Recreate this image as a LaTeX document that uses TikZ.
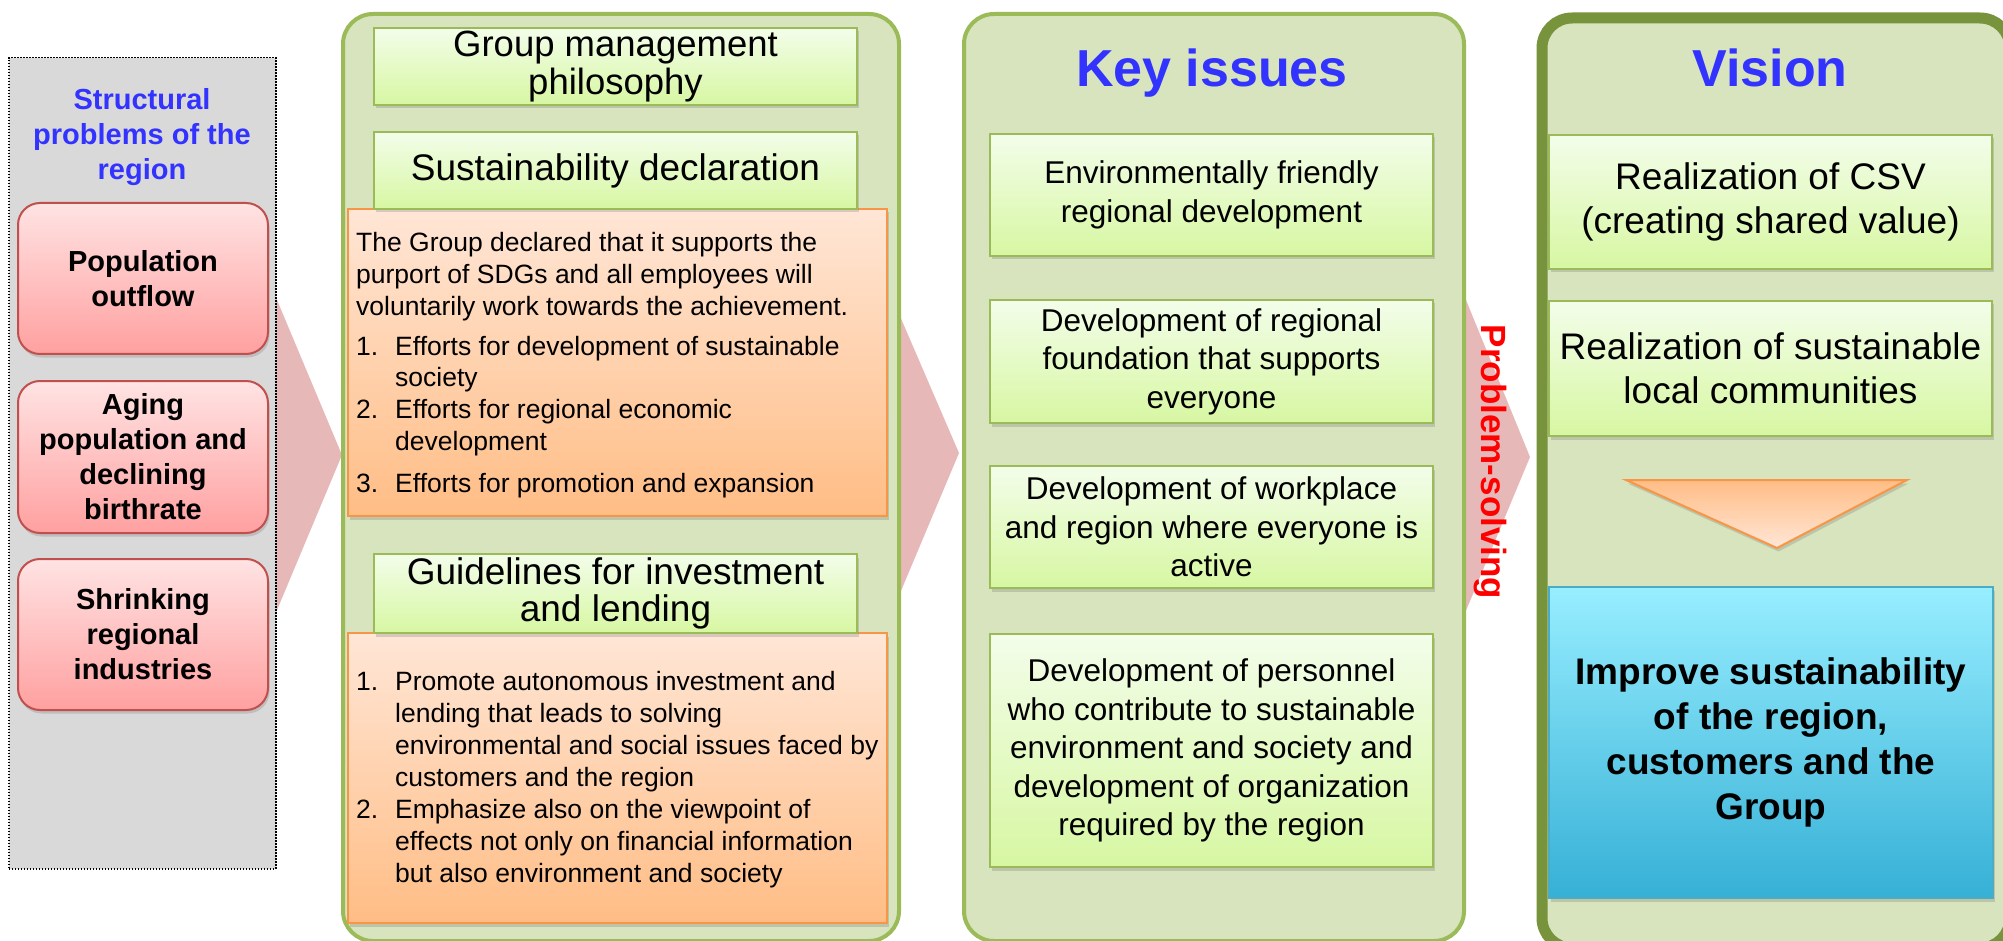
\documentclass[tikz,border=0pt]{standalone}
\usepackage{fontspec}
\setmainfont{Liberation Sans}
\usepackage{xcolor}
\usepackage{tikz}
\usetikzlibrary{shadows}

\definecolor{panelfill}{HTML}{D7E4BD}
\definecolor{panelline}{HTML}{9BBB59}
\definecolor{visionline}{HTML}{77933C}
\definecolor{greentop}{HTML}{F3FDEA}
\definecolor{greenbot}{HTML}{D7F7A2}
\definecolor{orangetop}{HTML}{FFE6D6}
\definecolor{orangebot}{HTML}{FFBD85}
\definecolor{orangeline}{HTML}{F79646}
\definecolor{redtop}{HTML}{FFE3E3}
\definecolor{redbot}{HTML}{FFA0A0}
\definecolor{redline}{HTML}{C0504D}
\definecolor{bluetop}{HTML}{97EEFF}
\definecolor{bluebot}{HTML}{36B0D6}
\definecolor{blueline}{HTML}{4BACC6}
\definecolor{chevron}{HTML}{E6B9B8}
\definecolor{headblue}{HTML}{3333FF}
\definecolor{problemgray}{HTML}{D9D9D9}

\newcommand{\fs}[2]{\fontsize{#1}{#2}\selectfont}
\newcommand{\numitem}[2]{\par\hangindent=39pt\hangafter=1\noindent\makebox[39pt][l]{#1}#2\par}

\tikzset{
  boxshadow/.style={drop shadow={shadow xshift=1.5pt, shadow yshift=-3.5pt, opacity=0.3}},
  panel/.style={draw=panelline, line width=4pt, fill=panelfill, rounded corners=30pt,
    anchor=north west, inner sep=0pt},
  greenbox/.style={draw=panelline, line width=2pt, top color=greentop, bottom color=greenbot,
    boxshadow, anchor=north west, inner sep=0pt, align=center},
  orangebox/.style={draw=orangeline, line width=2pt, top color=orangetop, bottom color=orangebot,
    boxshadow, anchor=north west, inner sep=0pt, minimum width=539pt},
  redbox/.style={draw=redline, line width=2pt, top color=redtop, bottom color=redbot,
    rounded corners=22pt, boxshadow, anchor=north west, inner sep=0pt, align=center,
    minimum width=250pt, font=\fs{29}{35}\bfseries},
  keybox/.style={greenbox, minimum width=443pt, font=\fs{31.5}{38.5}},
  visionbox/.style={greenbox, minimum width=443pt, font=\fs{37}{44}},
  headtext/.style={anchor=base, text=headblue, font=\fs{52}{60}\bfseries},
  listtext/.style={anchor=base west, inner sep=0pt, align=left}
}

\begin{document}
\begin{tikzpicture}[x=1pt, y=-1pt]
    \useasboundingbox (0,0) rectangle (2003,941);

    % arrows running behind the columns
    \fill[chevron] (272,288) -- (342,455) -- (272,622) -- cycle;
    \fill[chevron] (890,293) -- (959,453) -- (890,617) -- cycle;
    \fill[chevron] (1455,273) -- (1530,457) -- (1455,637) -- cycle;

    % structural problems
    \node[draw, fill=problemgray, line width=1.5pt, dash pattern=on 1.5pt off 1.5pt,
      anchor=north west, inner sep=0pt, minimum width=267pt, minimum height=811pt] (problems) at (8,57) {};
    \node[align=center, text=headblue, font=\fs{29}{35}\bfseries] (probhead) at (142,137)
      {Structural\\problems of the\\region};
    \node[redbox, minimum height=151pt] (outflow) at (17,202) {Population\\outflow};
    \node[redbox, minimum height=152pt] (aging) at (17,380) {Aging\\population and\\declining\\birthrate};
    \node[redbox, minimum height=151pt] (shrink) at (17,558) {Shrinking\\regional\\industries};

    % policies
    \node[panel, minimum width=556pt, minimum height=927pt] (policy) at (341,12) {};
    \node[orangebox, minimum height=307pt] (declbox) at (347,208) {};
    \node[orangebox, minimum height=290pt] (guidebox) at (347,632) {};
    \node[greenbox, minimum width=483pt, minimum height=77pt, font=\fs{36.5}{38}] (philo) at (373,27)
      {Group management\\philosophy};
    \node[greenbox, minimum width=483pt, minimum height=77pt, font=\fs{37}{40}] (decl) at (373,131)
      {Sustainability declaration};
    \node[greenbox, minimum width=483pt, minimum height=79pt, font=\fs{37}{37}] (guide) at (373,553)
      {Guidelines for investment\\and lending};
    \node[listtext, font=\fs{26.5}{31.6}] (decltext) at (356,252) {\parbox[t]{560pt}{
      The Group declared that it supports the\\
      purport of SDGs and all employees will\\
      voluntarily work towards the achievement.\par\vspace{8.5pt}
      \numitem{1.}{Efforts for development of sustainable\\society}
      \numitem{2.}{Efforts for regional economic\\development}
      \vspace{10.5pt}
      \numitem{3.}{Efforts for promotion and expansion}}};
    \node[listtext, font=\fs{26.5}{32}] (guidetext) at (356,690) {\parbox[t]{560pt}{
      \numitem{1.}{Promote autonomous investment and\\lending that leads to solving\\
        environmental and social issues faced by\\customers and the region}
      \numitem{2.}{Emphasize also on the viewpoint of\\effects not only on financial information\\
        but also environment and society}}};

    % key issues
    \node[panel, minimum width=500pt, minimum height=927pt] (issues) at (962,12) {};
    \node[headtext] (keyhead) at (1212,87) {Key issues};
    \node[keybox, minimum height=122pt] (envdev) at (989,133)
      {Environmentally friendly\\regional development};
    \node[keybox, minimum height=123pt] (found) at (989,299)
      {Development of regional\\foundation that supports\\everyone};
    \node[keybox, minimum height=122pt] (work) at (989,465)
      {Development of workplace\\and region where everyone is\\active};
    \node[keybox, minimum height=233pt] (people) at (989,633)
      {Development of personnel\\who contribute to sustainable\\environment and society and\\development of organization\\required by the region};
    \node[rotate=-90, text=red, font=\fs{35}{40}\bfseries] (solving) at (1490,462) {Problem-solving};

    % vision
    \node[panel, draw=visionline, line width=11pt, minimum width=468pt, minimum height=930pt] (vision) at (1536.5,12.5) {};
    \node[headtext] (visionhead) at (1770,87) {Vision};
    \node[visionbox, minimum height=134pt] (csv) at (1548,134)
      {Realization of CSV\\(creating shared value)};
    \node[visionbox, minimum height=135pt] (local) at (1548,300)
      {Realization of sustainable\\local communities};
    \shade[top color=orangebot, bottom color=orangetop, draw=orangeline, line width=2pt, boxshadow]
      (1626,480) -- (1907,480) -- (1777,548) -- cycle;
    \node[greenbox, draw=blueline, top color=bluetop, bottom color=bluebot, minimum width=444pt,
      minimum height=311pt, font=\fs{37}{45}\bfseries] (goal) at (1548,586)
      {Improve sustainability\\of the region,\\customers and the\\Group};
\end{tikzpicture}
\end{document}
